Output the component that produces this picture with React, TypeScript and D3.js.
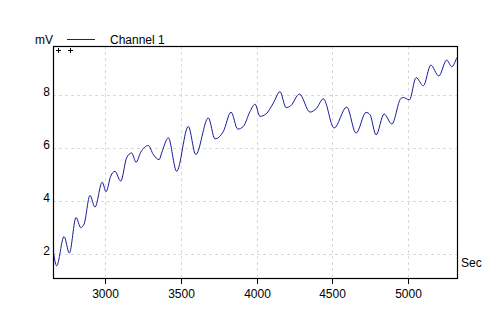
import React, { useEffect, useRef } from 'react'
import * as d3 from 'd3'

// sample time (sec) and channel 1 voltage (mV)
const secs = [2659, 2681, 2730, 2765, 2809, 2840, 2862, 2901, 2934, 2982, 3007, 3038, 3066, 3104, 3143, 3176, 3205, 3236, 3286, 3319, 3357, 3374, 3418, 3473, 3550, 3599, 3682, 3726, 3781, 3832, 3876, 3913, 3957, 3990, 4023, 4063, 4111, 4155, 4195, 4226, 4283, 4353, 4397, 4441, 4512, 4595, 4657, 4723, 4749, 4789, 4842, 4893, 4952, 4969, 5009, 5053, 5101, 5150, 5203, 5255, 5288, 5321]
const mv = [2.12, 1.56, 2.66, 2.04, 3.38, 3.0, 3.13, 4.21, 3.77, 4.71, 4.35, 4.94, 5.12, 4.75, 5.63, 5.81, 5.46, 5.84, 6.09, 5.75, 5.56, 5.81, 6.38, 5.12, 6.81, 5.75, 7.13, 6.34, 6.62, 7.35, 6.71, 6.81, 7.37, 7.65, 7.19, 7.28, 7.69, 8.12, 7.52, 7.59, 8.03, 7.35, 7.5, 7.85, 6.75, 7.54, 6.56, 7.34, 7.25, 6.49, 7.28, 6.9, 7.86, 7.9, 7.81, 8.65, 8.34, 9.12, 8.71, 9.31, 9.06, 9.4]
const xTicks = [3000, 3500, 4000, 4500, 5000]
const yTicks = [2, 4, 6, 8]
const xDomain = [2657, 5323]
const yDomain = [1.1, 9.84]

const App = () => {
    const ref = useRef<SVGSVGElement>(null)

    useEffect(() => {
        document.body.style.margin = '0'
        const w = 493, h = 311
        const left = 53, right = 457, top = 46, bottom = 278
        const font = 'Arial, "Liberation Sans", sans-serif'
        const lineColor = '#1a1a9a'

        const svg = d3.select(ref.current).attr('width', w).attr('height', h).style('background', '#fff')
        svg.selectAll('*').remove()

        const x = d3.scaleLinear().domain(xDomain).range([left, right])
        const y = d3.scaleLinear().domain(yDomain).range([bottom, top])

        // dashed grid
        svg.append('g').selectAll('line').data(xTicks).join('line')
            .attr('x1', d => Math.round(x(d)) + 0.5).attr('x2', d => Math.round(x(d)) + 0.5)
            .attr('y1', top).attr('y2', bottom)
            .attr('stroke', '#d9d9d9').attr('stroke-dasharray', '3,3')
        svg.append('g').selectAll('line').data(yTicks).join('line')
            .attr('x1', left).attr('x2', right)
            .attr('y1', d => Math.round(y(d)) + 0.5).attr('y2', d => Math.round(y(d)) + 0.5)
            .attr('stroke', '#d9d9d9').attr('stroke-dasharray', '3,3')

        // the trace
        const pts: [number, number][] = secs.map((s, i) => [s, mv[i]])
        const line = d3.line<[number, number]>()
            .x(d => x(d[0])).y(d => y(d[1]))
            .curve(d3.curveMonotoneX)
        svg.append('path').datum(pts)
            .attr('d', line)
            .attr('fill', 'none').attr('stroke', lineColor).attr('stroke-width', 1)

        // frame
        svg.append('rect')
            .attr('x', left + 0.5).attr('y', top + 0.5)
            .attr('width', right - left).attr('height', bottom - top)
            .attr('fill', 'none').attr('stroke', '#000').attr('stroke-width', 1.2)

        // x axis ticks + labels
        const xt = svg.append('g').selectAll('g').data(xTicks).join('g')
            .attr('transform', d => `translate(${Math.round(x(d)) + 0.5},${bottom})`)
        xt.append('line').attr('y1', 0).attr('y2', 6).attr('stroke', '#000')
        xt.append('text').attr('y', 20).attr('text-anchor', 'middle')
            .attr('font-family', font).attr('font-size', 12).attr('fill', '#000')
            .text(d => d)

        // y axis labels
        svg.append('g').selectAll('text').data(yTicks).join('text')
            .attr('x', 50).attr('y', d => y(d) + 1)
            .attr('text-anchor', 'end')
            .attr('font-family', font).attr('font-size', 12).attr('fill', '#000')
            .text(d => d)

        // unit labels
        svg.append('text').attr('x', 35).attr('y', 44)
            .attr('font-family', font).attr('font-size', 12).text('mV')
        svg.append('text').attr('x', 461).attr('y', 267)
            .attr('font-family', font).attr('font-size', 12).text('Sec')

        // legend
        svg.append('line').attr('x1', 67).attr('x2', 95).attr('y1', 39.5).attr('y2', 39.5)
            .attr('stroke', lineColor).attr('stroke-width', 1)
        svg.append('text').attr('x', 110).attr('y', 44)
            .attr('font-family', font).attr('font-size', 12).text('Channel 1')

        // little cursor marks in the corner
        ;[58, 70].forEach(cx => {
            svg.append('path')
                .attr('d', `M${cx - 2},50.5H${cx + 3}M${cx + 0.5},48V53`)
                .attr('stroke', '#000').attr('stroke-width', 1)
        })
    }, [])

    return (<svg ref={ref} style={{ display: 'block' }}></svg>)
}

export default App
